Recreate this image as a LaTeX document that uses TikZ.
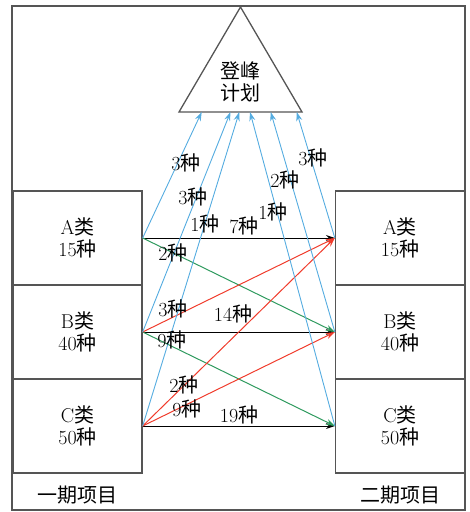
\documentclass[tikz,border=0pt]{standalone}
\usepackage{fontspec}
\newfontfamily\cjk{Noto Sans CJK SC}
\usetikzlibrary{arrows.meta}
\newcommand\zh[1]{{\cjk #1}}
\definecolor{lineblue}{HTML}{55ACE0}
\definecolor{linegreen}{HTML}{2E9A5E}
\definecolor{linered}{HTML}{F03C2C}
\definecolor{framegray}{HTML}{555555}

\begin{document}
\begin{tikzpicture}[x=1pt,y=-1pt,
  every node/.style={font=\fontsize{20}{22}\selectfont, inner sep=0pt},
  catbox/.style={draw=framegray, line width=1.3pt, minimum width=129pt,
                 minimum height=94pt, align=center},
  flow/.style={line width=1pt, -{Stealth[length=9pt,width=6pt]}},
  same/.style={flow, black},
  down/.style={flow, linegreen},
  up/.style={flow, linered},
  peak/.style={flow, lineblue, line width=0.9pt},
  tag/.style={anchor=center}]

\useasboundingbox (0,0) rectangle (470,512);

% outer frame
\draw[framegray, line width=1.3pt] (12,6) rectangle (465,510);

% summit triangle
\coordinate (apex) at (240.5,7);
\coordinate (bl) at (179,112);
\coordinate (br) at (302,112);
\draw[framegray, line width=1.3pt, line join=miter] (apex) -- (bl) -- (br) -- cycle;
\node[align=center] (plan) at (240.5,82) {\zh{登峰}\\\zh{计划}};

% entry points on the triangle base
\coordinate (p1) at (201.7,112);
\coordinate (p2) at (230.5,112);
\coordinate (p3) at (239.3,112);
\coordinate (p4) at (250,112);
\coordinate (p5) at (270.7,112);
\coordinate (p6) at (296.7,112);

% first-phase categories
\node[catbox] (la) at (77.5,238) {A\zh{类}\\15\zh{种}};
\node[catbox] (lb) at (77.5,332) {B\zh{类}\\40\zh{种}};
\node[catbox] (lc) at (77.5,426) {C\zh{类}\\50\zh{种}};
% second-phase categories
\node[catbox] (ra) at (400,238) {A\zh{类}\\15\zh{种}};
\node[catbox] (rb) at (400,332) {B\zh{类}\\40\zh{种}};
\node[catbox] (rc) at (400,426) {C\zh{类}\\50\zh{种}};

\node (ph1) at (77.5,495) {\zh{一期项目}};
\node (ph2) at (400,495) {\zh{二期项目}};

% unchanged category
\draw[same] (la.east) -- (ra.west);
\draw[same] (lb.east) -- (rb.west);
\draw[same] (lc.east) -- (rc.west);
% moved down
\draw[down] (la.east) -- (rb.west);
\draw[down] (lb.east) -- (rc.west);
% moved up
\draw[up] (lb.east) -- (ra.west);
\draw[up] (lc.east) -- (ra.west);
\draw[up] (lc.east) -- (rb.west);
% into the summit plan
\draw[peak] (la.east) -- (p1);
\draw[peak] (lb.east) -- (p2);
\draw[peak] (lc.east) -- (p3);
\draw[peak] (rc.west) -- (p4);
\draw[peak] (rb.west) -- (p5);
\draw[peak] (ra.west) -- (p6);

% counts
\node[tag] at (244,226) {7\zh{种}};
\node[tag] at (233,314) {14\zh{种}};
\node[tag] at (239,415) {19\zh{种}};
\node[tag] at (173,253) {2\zh{种}};
\node[tag] at (172,340) {9\zh{种}};
\node[tag] at (173,309) {3\zh{种}};
\node[tag] at (184,385) {2\zh{种}};
\node[tag] at (187,409) {9\zh{种}};
\node[tag] at (186,163) {3\zh{种}};
\node[tag] at (193,197) {3\zh{种}};
\node[tag] at (205,224) {1\zh{种}};
\node[tag] at (313,158) {3\zh{种}};
\node[tag] at (285,180) {2\zh{种}};
\node[tag] at (273,212) {1\zh{种}};
\end{tikzpicture}
\end{document}
